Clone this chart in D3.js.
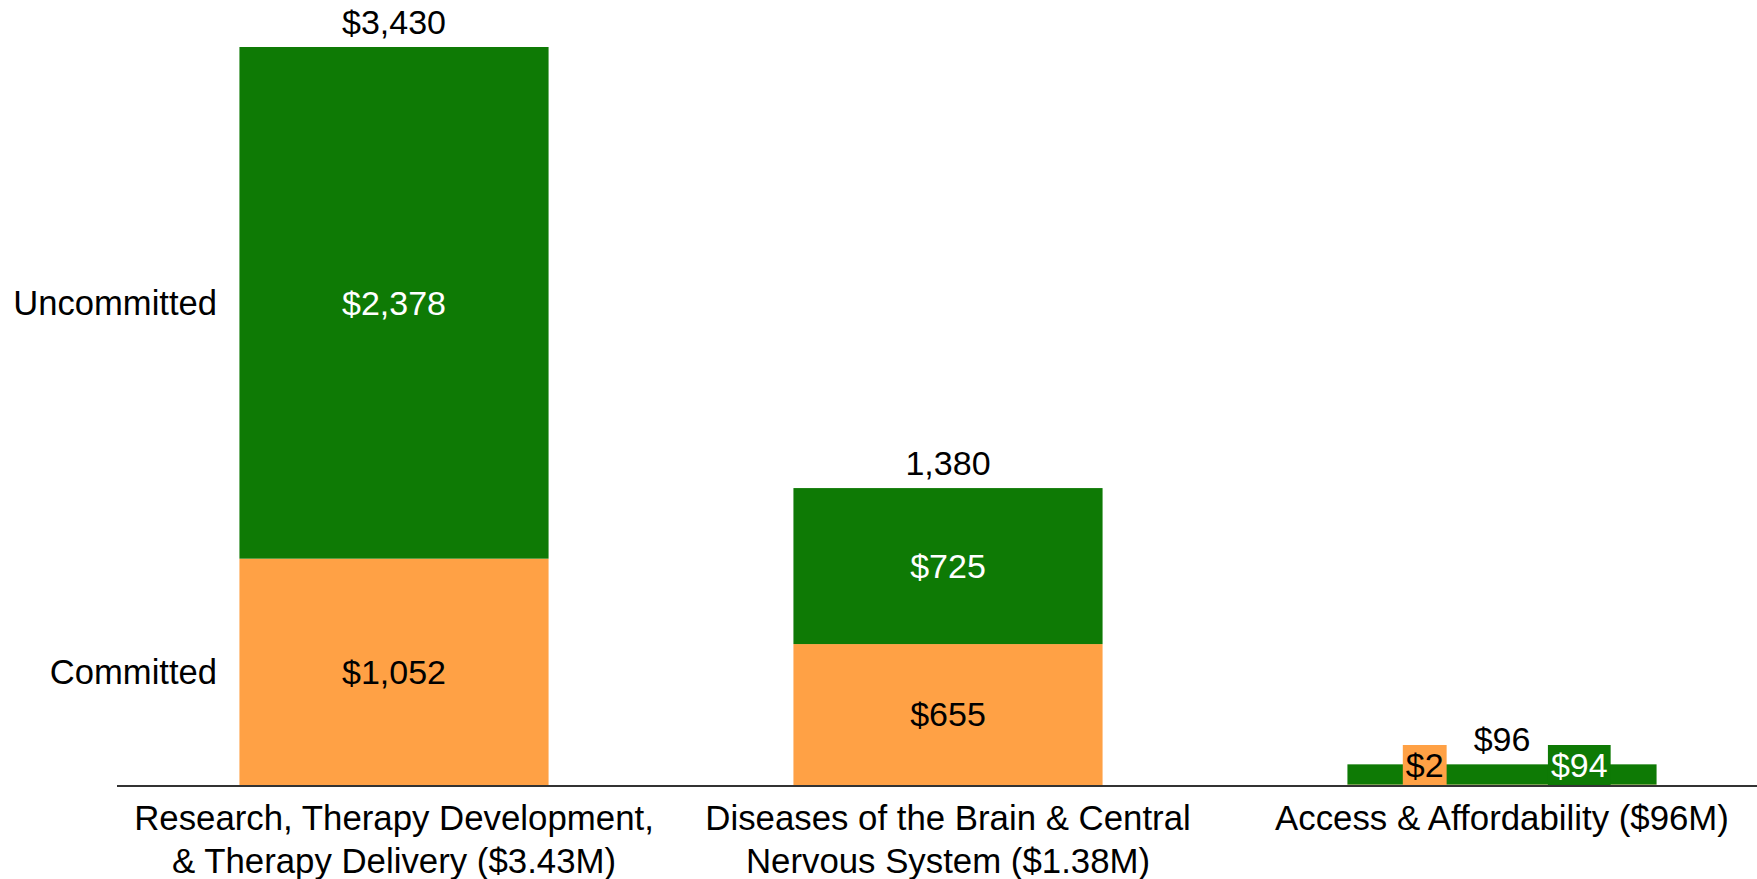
<!DOCTYPE html>
<html>
<head>
<meta charset="utf-8">
<script src="https://cdn.jsdelivr.net/npm/d3@7"></script>
<style>
  body { margin: 0; background: #fff; }
  text { font-family: "Liberation Sans", Arial, sans-serif; }
</style>
</head>
<body>
<script>
var categories = [
  ["Research, Therapy Development,", "& Therapy Delivery ($3.43M)"],
  ["Diseases of the Brain & Central", "Nervous System ($1.38M)"],
  ["Access & Affordability ($96M)"]
];
var committed = [1052, 655, 2];
var uncommitted = [2378, 725, 94];
var totalLabels = ["$3,430", "1,380", "$96"];
var seriesNames = ["Committed", "Uncommitted"];

var w = 1757,
    h = 879,
    fs = 34,
    axisFs = 34.8;

var green = "#0e7a05",
    orange = "#ffa145";

var rows = categories.map(function(c, i) {
  return { i: i, Committed: committed[i], Uncommitted: uncommitted[i] };
});
var stacked = d3.stack().keys(seriesNames)(rows);

var x = d3.scaleBand()
    .domain(d3.range(categories.length))
    .range([117, 1779])
    .paddingInner(0.442)
    .paddingOuter(0.221);

var y = d3.scaleLinear()
    .domain([0, 3430])
    .range([785, 47]);

var svg = d3.select("body").append("svg")
    .attr("width", w)
    .attr("height", h);

var fmt = function(v) { return "$" + d3.format(",")(v); };

// bars
var layer = svg.selectAll("g.layer")
    .data(stacked)
  .enter().append("g")
    .attr("class", "layer")
    .attr("fill", function(d) { return d.key == "Committed" ? orange : green; });

layer.selectAll("rect")
    .data(function(d) { return d; })
  .enter().append("rect")
    .attr("x", function(d) { return x(d.data.i); })
    .attr("width", x.bandwidth())
    .attr("y", function(d) { return y(d[1]); })
    .attr("height", function(d) { return y(d[0]) - y(d[1]); });

// segment labels
stacked.forEach(function(s, k) {
  var isC = s.key == "Committed";
  s.forEach(function(d) {
    var v = d.data[s.key];
    var hgt = y(d[0]) - y(d[1]);
    var cx = x(d.data.i) + x.bandwidth() / 2;
    var t = svg.append("text")
        .attr("text-anchor", "middle")
        .attr("font-size", fs)
        .attr("fill", isC ? "#000" : "#fff")
        .text(fmt(v));
    if (hgt > fs) {
      t.attr("x", cx).attr("y", (y(d[0]) + y(d[1])) / 2).attr("dy", "0.35em");
    } else {
      // label doesn't fit: pull it out on a coloured box
      var lx = cx + (isC ? -1 : 1) * x.bandwidth() / 4;
      var bw = t.node().getComputedTextLength() + 6;
      svg.insert("rect", function() { return t.node(); })
          .attr("x", lx - bw / 2)
          .attr("y", y(0) - 40)
          .attr("width", bw)
          .attr("height", 40)
          .attr("fill", isC ? orange : green);
      t.attr("x", lx).attr("y", y(0) - 20).attr("dy", "0.35em");
    }
  });
});

// totals
svg.selectAll("text.total")
    .data(rows)
  .enter().append("text")
    .attr("class", "total")
    .attr("x", function(d) { return x(d.i) + x.bandwidth() / 2; })
    .attr("y", function(d) { return y(d.Committed + d.Uncommitted) - 13; })
    .attr("text-anchor", "middle")
    .attr("font-size", fs)
    .attr("fill", "#000")
    .text(function(d, i) { return totalLabels[i]; });

// series names on the left, lined up with first bar
stacked.forEach(function(s) {
  var d = s[0];
  svg.append("text")
      .attr("x", 217)
      .attr("y", (y(d[0]) + y(d[1])) / 2)
      .attr("dy", "0.35em")
      .attr("text-anchor", "end")
      .attr("font-size", 34.6)
      .attr("fill", "#000")
      .text(s.key);
});

// x axis
var xAxis = svg.append("g")
    .attr("transform", "translate(0," + 786 + ")")
    .call(d3.axisBottom(x).tickSize(0).tickFormat(""));
xAxis.select(".domain")
    .attr("d", "M117,0H" + w)
    .attr("stroke", "#333")
    .attr("stroke-width", 2);

xAxis.selectAll(".tick").each(function(d) {
  var t = d3.select(this).append("text")
      .attr("fill", "#000")
      .attr("font-size", axisFs)
      .attr("text-anchor", "middle")
      .attr("y", 44);
  categories[d].forEach(function(line, j) {
    t.append("tspan").attr("x", 0).attr("dy", j == 0 ? 0 : 43).text(line);
  });
});
</script>
</body>
</html>
